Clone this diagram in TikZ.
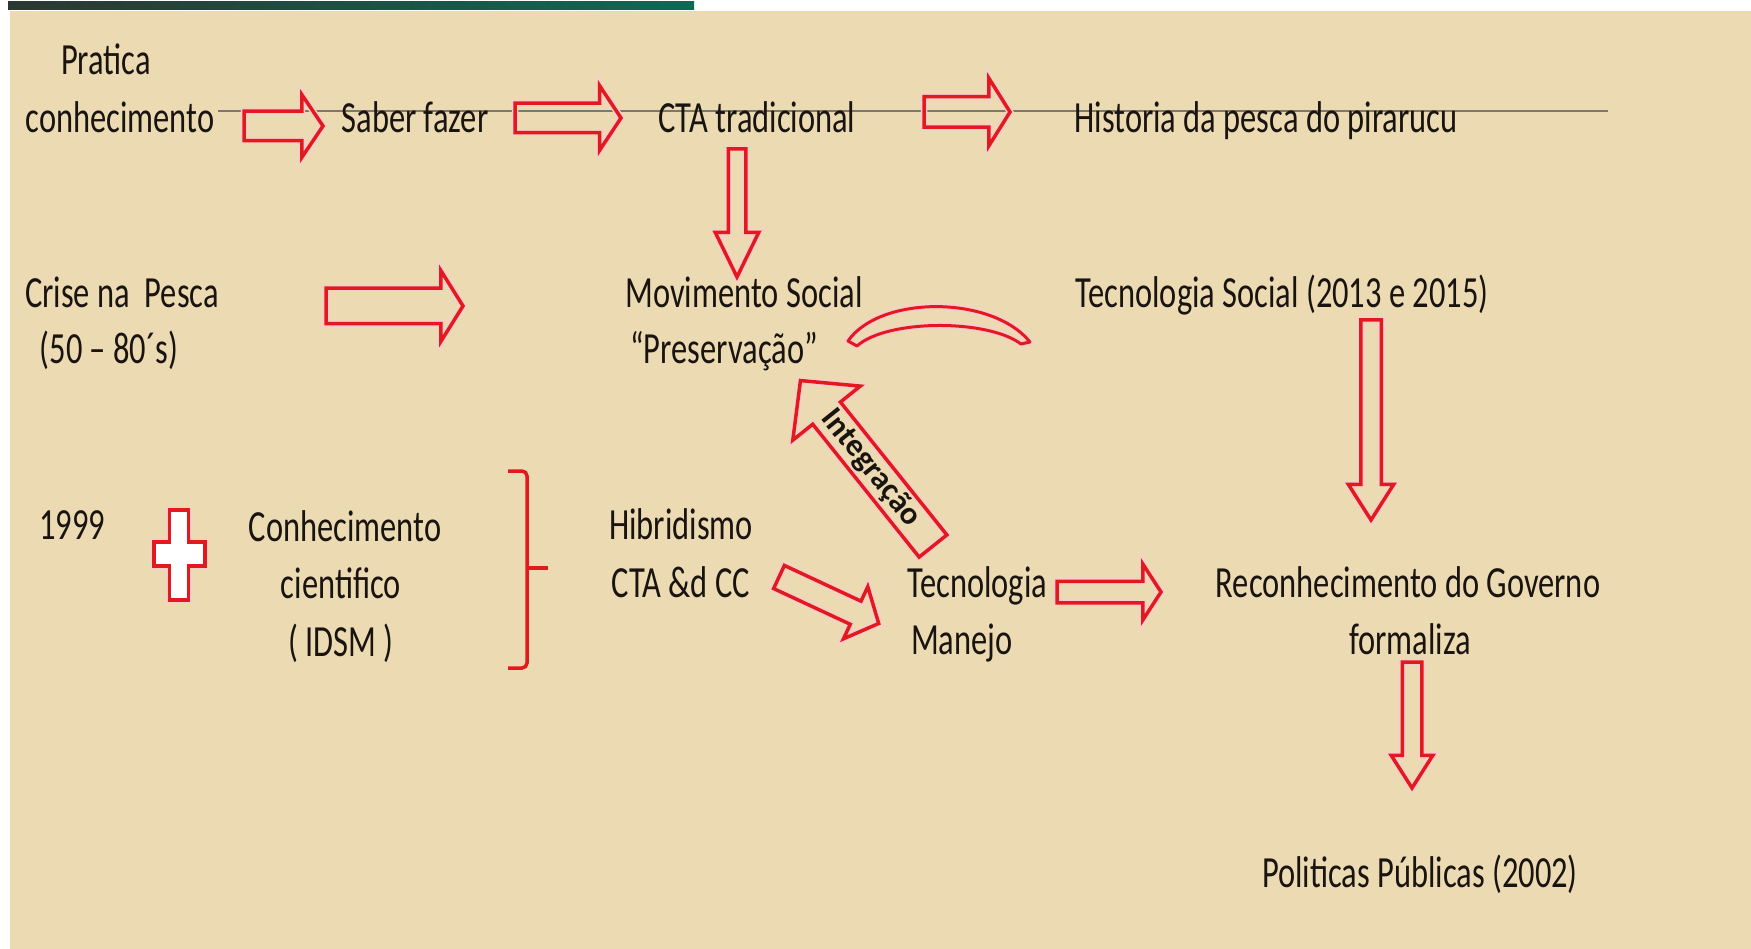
\documentclass[tikz,border=0pt]{standalone}
\usepackage{fontspec}
\setmainfont[FakeStretch=0.73]{Carlito}
\newfontfamily\plaincarlito{Carlito}
\usepackage{tikz}
\usetikzlibrary{shapes.arrows, calc}
\usepackage{xcolor}
\definecolor{parch}{RGB}{235,218,178}
\definecolor{arrowred}{RGB}{226,26,30}
\definecolor{ink}{RGB}{25,20,15}
\definecolor{rulegray}{RGB}{125,120,110}
\definecolor{bardark}{RGB}{45,55,50}
\definecolor{barteal}{RGB}{15,105,85}

\tikzset{
  lbl/.style={font=\fontsize{44.5}{57}\selectfont, text=ink, inner sep=0pt, anchor=base},
  redline/.style={draw=arrowred, line width=3.5pt,
                  preaction={draw=arrowred!22, line width=6.5pt}},
  blkarrow/.style={single arrow, redline, inner xsep=0pt, outer sep=0pt, anchor=tail},
}

\begin{document}
\begin{tikzpicture}[x=1pt, y=-1pt]
    \useasboundingbox (0,0) rectangle (1751,949);
    % background sheet
    \fill[white] (0,0) rectangle (1751,949);
    \fill[parch] (10,11) rectangle (1751,949);
    \shade[left color=bardark, right color=barteal] (8,2) rectangle (694,10);
    \draw[rulegray, line width=2pt] (218,111) -- (1608,111);

    % first row
    \node[lbl] (pratica) at (106,75) {Pratica};
    \node[lbl] (conhec) at (120,133) {conhecimento};
    \node[lbl] (saber) at (415,133) {Saber fazer};
    \node[lbl] (cta) at (757,133) {CTA tradicional};
    \node[lbl] (historia) at (1266,133) {Historia da pesca do pirarucu};

    % second row
    \node[lbl] (crise) at (122,308) {Crise na\ \ Pesca};
    \node[lbl] (criseano) at (109,364) {(50 – 80´s)};
    \node[lbl] (movimento) at (744,308) {Movimento Social};
    \node[lbl] (preserv) at (724,364) {“Preservação”};
    \node[lbl] (tecsocial) at (1282,308) {Tecnologia Social (2013 e 2015)};

    % third row
    \node[lbl] (ano) at (72,539) {1999};
    \node[lbl] (cient1) at (345,541) {Conhecimento};
    \node[lbl] (cient2) at (341,598) {cientifico};
    \node[lbl] (cient3) at (341,656) {( IDSM )};
    \node[lbl] (hibrid) at (681,539) {Hibridismo};
    \node[lbl] (ctacc) at (681,597) {CTA \&d CC};
    \node[lbl, anchor=base west] (tecno) at (907,597) {Tecnologia};
    \node[lbl, anchor=base west] (manejo) at (911,654) {Manejo};
    \node[lbl] (reconhec) at (1408,597) {Reconhecimento do Governo};
    \node[lbl] (formaliza) at (1410,654) {formaliza};
    \node[lbl] (politicas) at (1420,887) {Politicas Públicas (2002)};

    % block arrows
    \node[blkarrow, inner ysep=13, minimum height=79, minimum width=59,
          single arrow head extend=16.5, single arrow tip angle=112] (a1) at (244,126) {};
    \node[blkarrow, inner ysep=13, minimum height=106, minimum width=61,
          single arrow head extend=17.5, single arrow tip angle=113] (a2) at (515,118) {};
    \node[blkarrow, inner ysep=13.5, minimum height=86, minimum width=64,
          single arrow head extend=18.5, single arrow tip angle=116] (a3) at (924,112) {};
    \node[blkarrow, rotate=-90, inner ysep=7, minimum height=128, minimum width=40,
          single arrow head extend=13, single arrow tip angle=52] (d1) at (737,149) {};
    \node[blkarrow, inner ysep=16, minimum height=137, minimum width=67,
          single arrow head extend=17.5, single arrow tip angle=116] (a4) at (326,306) {};
    \node[blkarrow, rotate=-90, inner ysep=8.5, minimum height=200, minimum width=42,
          single arrow head extend=12.5, single arrow tip angle=65] (d2) at (1371,320) {};
    \node[blkarrow, inner ysep=9, minimum height=104, minimum width=52,
          single arrow head extend=17, single arrow tip angle=114] (a5) at (1057,592) {};
    \node[blkarrow, rotate=-25, inner ysep=11, minimum height=110, minimum width=54,
          single arrow head extend=16, single arrow tip angle=97] (a6) at (779,577) {};
    \node[blkarrow, rotate=-90, inner ysep=8, minimum height=126, minimum width=38,
          single arrow head extend=11, single arrow tip angle=65] (d3) at (1412,662) {};
    \node[blkarrow, rotate=128.7, inner ysep=16, minimum height=212, minimum width=83,
          single arrow head extend=25.5, single arrow tip angle=92] (integ) at (933,546) {};
    \node[font=\plaincarlito\bfseries\fontsize{32}{32}\selectfont, text=ink, inner sep=0pt,
          rotate=-51.3] (integtxt) at ($(integ.tail)!0.47!(integ.tip)$) {Integração};

    % curved band
    \draw[redline, line width=3pt, line join=round]
      (848,341) .. controls (880,295) and (992,295) .. (1030,342)
      -- (1021,344) .. controls (988,319) and (887,319) .. (857,346) -- cycle;

    % plus sign
    \draw[redline, fill=white]
      (169.5,510) -- (188.5,510) -- (188.5,542) -- (205,542) -- (205,566) -- (188.5,566)
      -- (188.5,600) -- (169.5,600) -- (169.5,566) -- (154,566) -- (154,542)
      -- (169.5,542) -- cycle;

    % closing bracket
    \draw[arrowred, line width=3.5pt, rounded corners=5pt]
      (508,471) -- (527,471) -- (527,668) -- (508,668);
    \draw[arrowred, line width=3.5pt] (527,568) -- (548,568);
\end{tikzpicture}
\end{document}
